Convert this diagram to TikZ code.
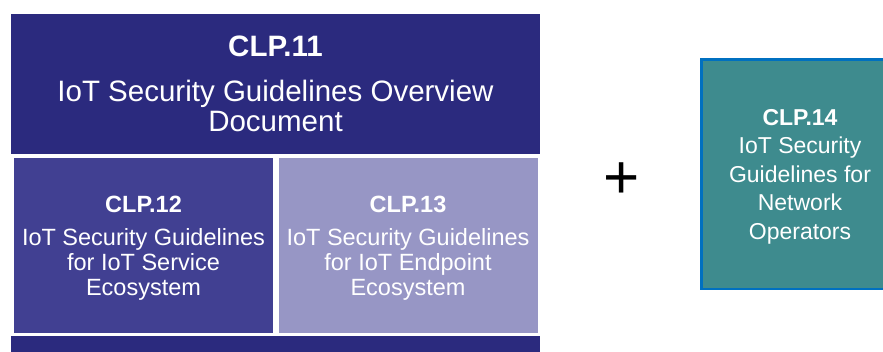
\documentclass[tikz,border=0pt]{standalone}
\usepackage{fontspec}
\setmainfont{Liberation Sans}
\usetikzlibrary{calc}
\definecolor{Overview}{RGB}{43,42,126}
\definecolor{Service}{RGB}{65,64,146}
\definecolor{Endpoint}{RGB}{151,150,197}
\definecolor{Network}{RGB}{62,139,142}
\definecolor{NetworkEdge}{RGB}{0,112,192}

\begin{document}
\begin{tikzpicture}[x=1pt, y=-1pt]
			\tikzstyle{every node}=[shape=rectangle, align=center, text=white, inner sep=0pt];
			\tikzstyle{subdoc}=[minimum width=259pt, minimum height=175pt, text depth=-4pt, font=\fontsize{23.5}{25}\selectfont];
			\clip (0, 0) rectangle (883, 351);
			\node [fill=Overview, minimum width=529pt, minimum height=140pt, font=\fontsize{29.5}{30}\selectfont] (clp11) at (275.5, 84) {\textbf{CLP.11}\\[15pt]IoT Security Guidelines Overview\\Document};
			\node [subdoc, fill=Service] (clp12) at (143.5, 245.5) {\textbf{CLP.12}\\[8pt]IoT Security Guidelines\\for IoT Service\\Ecosystem};
			\node [subdoc, fill=Endpoint] (clp13) at (408, 245.5) {\textbf{CLP.13}\\[8pt]IoT Security Guidelines\\for IoT Endpoint\\Ecosystem};
			\node [fill=Overview, minimum width=529pt, minimum height=24pt] (footer) at (275.5, 348) {};
			\node [text=black, font=\fontsize{62}{62}\selectfont] (plus) at (622, 181) {+};
			\node [draw=NetworkEdge, line width=2.5pt, fill=Network, minimum width=197.5pt, minimum height=229.5pt, text depth=-9pt, font=\fontsize{23}{28.5}\selectfont] (clp14) at (800, 174) {\textbf{CLP.14}\\IoT Security\\Guidelines for\\Network\\Operators};
		\end{tikzpicture}
\end{document}
